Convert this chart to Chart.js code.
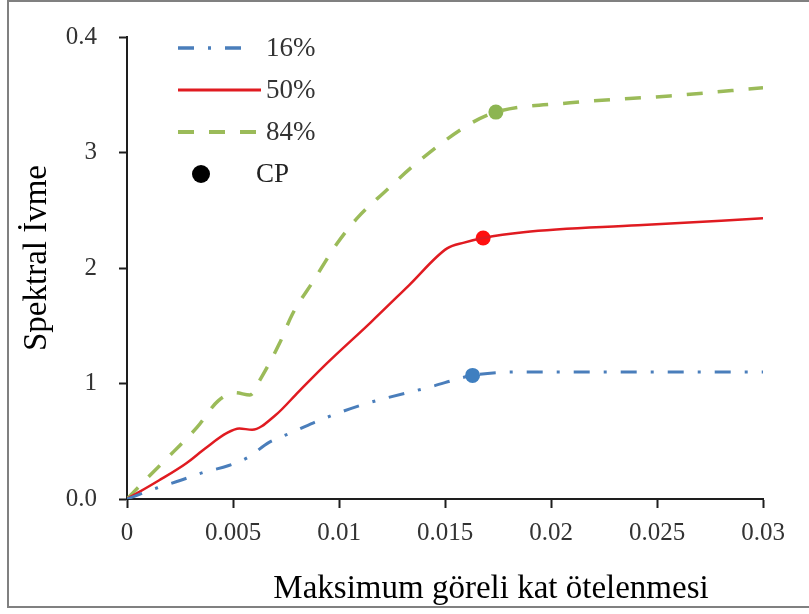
<!DOCTYPE html>
<html>
<head>
<meta charset="utf-8">
<title>Spektral İvme – Maksimum göreli kat ötelenmesi</title>
<script src="https://cdn.jsdelivr.net/npm/chart.js@4.4.1/dist/chart.umd.min.js"></script>
<style>
  html, body { margin: 0; padding: 0; background: #fff; }
  #wrap { position: relative; width: 809px; height: 614px; }
</style>
</head>
<body>
<div id="wrap"><canvas id="c" width="809" height="614"></canvas></div>
<script>
// Drift ratio (x) and spectral acceleration (y) for the three fractile curves
const drift16 = [0, 0.0014, 0.0025, 0.0036, 0.0048, 0.0057, 0.0067, 0.0077, 0.0088, 0.0110, 0.0143, 0.0163, 0.0184, 0.0220, 0.0260, 0.0300];
const sa16    = [0, 0.0095, 0.016, 0.023, 0.029, 0.036, 0.049, 0.057, 0.066, 0.081, 0.097, 0.107, 0.110, 0.110, 0.110, 0.110];

const drift50 = [0, 0.0015, 0.0028, 0.0037, 0.0047, 0.0053, 0.0059, 0.0070, 0.0081, 0.0094, 0.0115, 0.0133, 0.0151, 0.0159, 0.0168, 0.0187, 0.0241, 0.0300];
const sa50    = [0, 0.016, 0.031, 0.044, 0.057, 0.061, 0.060, 0.0725, 0.093, 0.117, 0.153, 0.185, 0.217, 0.222, 0.226, 0.231, 0.237, 0.243];

const drift84 = [0, 0.0010, 0.0022, 0.0033, 0.0043, 0.0051, 0.0058, 0.0063, 0.0072, 0.0078, 0.0088, 0.0099, 0.0109, 0.0121, 0.0138, 0.0162, 0.0174, 0.0209, 0.0256, 0.0300];
const sa84    = [0, 0.019, 0.041, 0.062, 0.085, 0.092, 0.090, 0.104, 0.135, 0.160, 0.189, 0.221, 0.244, 0.265, 0.293, 0.325, 0.335, 0.343, 0.349, 0.356];

// Collapse prevention (CP) points on each curve: 16%, 50%, 84%
const cpDrift = [0.0163, 0.0168, 0.0174];
const cpSa    = [0.107, 0.226, 0.335];

const seriesNames = ['16%', '50%', '84%', 'CP'];
const xTickLabels = ['0', '0.005', '0.01', '0.015', '0.02', '0.025', '0.03'];
const yTickLabels = ['0.0', '1', '2', '3', '0.4'];

const xTitle = 'Maksimum göreli kat ötelenmesi';
const yTitle = 'Spektral İvme';

const pts = (xs, ys) => xs.map((x, i) => ({ x, y: ys[i] }));

const BLUE = '#4a7ebb', RED = '#e01b21', GREEN = '#9bbb59';
const BLUE_DASH = [16, 14, 3, 14], GREEN_DASH = [16, 15];
const SERIF = '"Liberation Serif", "Times New Roman", serif';

// Frame, axis titles and the in-plot legend
const deco = {
  id: 'deco',
  beforeDraw(chart) {
    const ctx = chart.ctx;
    ctx.save();
    ctx.fillStyle = '#fff';
    ctx.fillRect(0, 0, chart.width, chart.height);
    ctx.strokeStyle = '#808080';
    ctx.lineWidth = 2;
    ctx.strokeRect(8, 1, 812, 606);
    ctx.restore();
  },
  afterDraw(chart) {
    const ctx = chart.ctx;
    ctx.save();
    ctx.fillStyle = '#000';
    ctx.font = '33px ' + SERIF;
    ctx.textAlign = 'center';
    ctx.textBaseline = 'middle';
    ctx.fillText(xTitle, 491, 589);
    ctx.translate(37, 258);
    ctx.rotate(-Math.PI / 2);
    ctx.fillText(yTitle, 0, 0);
    ctx.restore();

    // legend: sample line, label
    const ds = chart.data.datasets;
    const rows = [48, 90, 132];
    const ends = [248, 261, 261];
    ctx.save();
    ctx.font = '27px ' + SERIF;
    ctx.textBaseline = 'middle';
    ctx.textAlign = 'left';
    for (let i = 0; i < 3; i++) {
      const d = ds[i];
      ctx.beginPath();
      ctx.strokeStyle = d.borderColor;
      ctx.lineWidth = d.borderWidth + 0.5;
      ctx.setLineDash(d.borderDash || []);
      ctx.moveTo(178, rows[i]);
      ctx.lineTo(ends[i], rows[i]);
      ctx.stroke();
      ctx.setLineDash([]);
      ctx.fillStyle = '#333';
      ctx.fillText(d.label, 266, rows[i] + 1);
    }
    ctx.beginPath();
    ctx.fillStyle = '#000';
    ctx.arc(201, 174, 9, 0, Math.PI * 2);
    ctx.fill();
    ctx.fillStyle = '#222';
    ctx.fillText(ds[3].label, 256, 175);
    ctx.restore();
  }
};

const tickFont = { family: SERIF, size: 25 };

new Chart(document.getElementById('c'), {
  type: 'scatter',
  data: {
    datasets: [
      { label: seriesNames[0], data: pts(drift16, sa16), showLine: true, borderColor: BLUE, borderWidth: 3,
        borderDash: BLUE_DASH, pointRadius: 0, cubicInterpolationMode: 'monotone' },
      { label: seriesNames[1], data: pts(drift50, sa50), showLine: true, borderColor: RED, borderWidth: 2.5,
        pointRadius: 0, cubicInterpolationMode: 'monotone' },
      { label: seriesNames[2], data: pts(drift84, sa84), showLine: true, borderColor: GREEN, borderWidth: 3.5,
        borderDash: GREEN_DASH, pointRadius: 0, cubicInterpolationMode: 'monotone' },
      { label: seriesNames[3], data: pts(cpDrift, cpSa), showLine: false, pointRadius: 7.5, pointBorderWidth: 0,
        backgroundColor: ['#3f7fc0', '#ff1010', '#8cb552'], borderColor: 'rgba(0,0,0,0)' }
    ]
  },
  options: {
    responsive: false,
    animation: false,
    events: [],
    layout: { padding: { left: 0, right: 46, top: 35, bottom: 0 } },
    plugins: { legend: { display: false }, tooltip: { enabled: false }, title: { display: false } },
    scales: {
      x: {
        type: 'linear', min: 0, max: 0.03,
        ticks: { stepSize: 0.005, autoSkip: false, maxRotation: 0, padding: 10, color: '#333', font: tickFont,
                 callback: (v, i) => xTickLabels[i] },
        grid: { drawOnChartArea: false, drawTicks: true, tickLength: 9, tickWidth: 2, tickColor: '#1e1e1e' },
        border: { display: true, color: '#1e1e1e', width: 2 },
        afterFit(s) { s.height = 115; }
      },
      y: {
        type: 'linear', min: 0, max: 0.4,
        ticks: { stepSize: 0.1, autoSkip: false, padding: 22, color: '#333', font: tickFont,
                 callback: (v, i) => yTickLabels[i] },
        grid: { drawOnChartArea: false, drawTicks: true, tickLength: 8, tickWidth: 2, tickColor: '#1e1e1e' },
        border: { display: true, color: '#1e1e1e', width: 2 },
        afterFit(s) { s.width = 127; }
      }
    }
  },
  plugins: [deco]
});
</script>
</body>
</html>
